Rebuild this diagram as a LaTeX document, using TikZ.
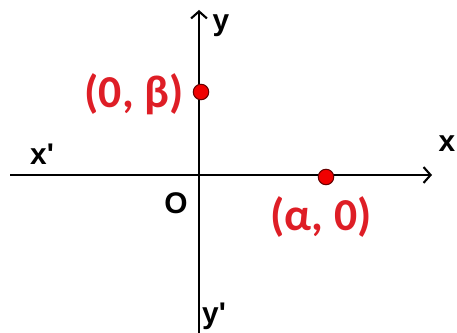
\documentclass[tikz,border=0pt]{standalone}
\usepackage{fontspec}
\usetikzlibrary{arrows.meta}
\setmainfont{Liberation Sans}
\newfontfamily\calfont{Carlito}
\definecolor{ptred}{RGB}{222,30,38}
\definecolor{dotred}{RGB}{240,0,0}
\begin{document}
\begin{tikzpicture}[
  x=0.02cm, y=-0.02cm,
  axis/.style={line width=1.2pt, draw=black, -{Straight Barb[length=4pt,width=9pt]}},
  dot/.style={circle, draw=black!60!red, fill=dotred, line width=0.6pt, inner sep=0pt, minimum size=0.31cm},
  alabel/.style={font=\fontsize{17}{20}\selectfont\bfseries, color=black, inner sep=0pt},
  plabel/.style={font=\calfont\fontsize{26}{30}\selectfont\bfseries, color=ptred, inner sep=0pt}
]
  % marco de la imagen
  \useasboundingbox (0,0) rectangle (457,333);

  % --- EJES ---
  \coordinate (xl) at (10,175);
  \coordinate (xr) at (432,175);
  \coordinate (yb) at (199,333);
  \coordinate (yt) at (199,10);

  \draw[axis] (xl) -- (xr);
  \draw[axis] (yb) -- (yt);

  \node[alabel] (xp)  at (42,154)  {x\textquotesingle};
  \node[alabel] (xx)  at (447,144) {x};
  \node[alabel] (yy)  at (221,26)  {y};
  \node[alabel] (yp)  at (214,316) {y\textquotesingle};
  \node[alabel] (org) at (176,203) {O};

  % --- PUNTOS ---
  \node[dot] (pb) at (201,92)  {};
  \node[dot] (pa) at (326,177) {};

  \node[plabel] (lb) at (134,94)  {(0, β)};
  \node[plabel] (la) at (321,217) {(α, 0)};
\end{tikzpicture}
\end{document}
